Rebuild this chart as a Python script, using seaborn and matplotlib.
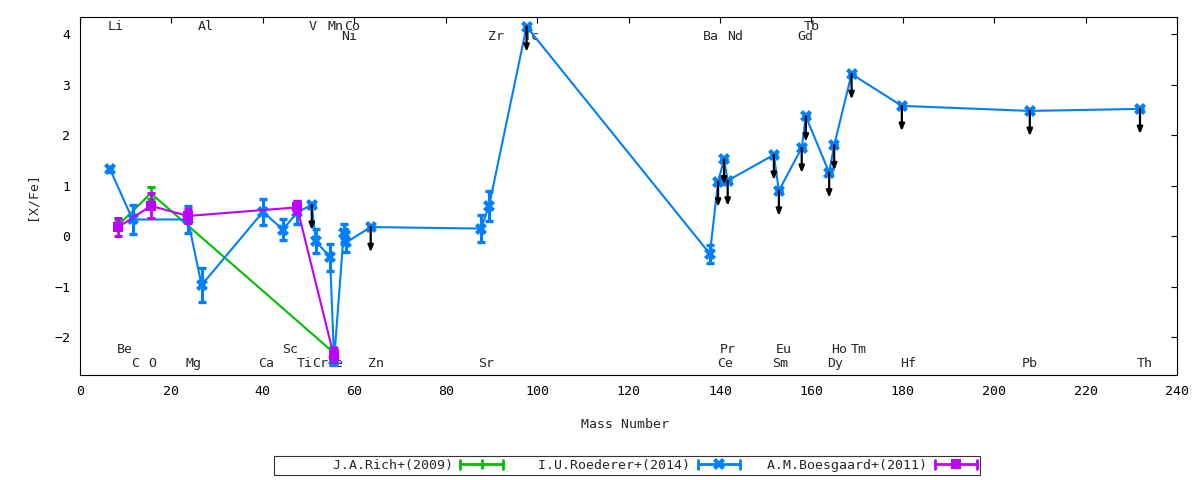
import matplotlib
matplotlib.use('Agg')
import matplotlib.pyplot as plt
from matplotlib.lines import Line2D
from matplotlib.legend_handler import HandlerBase
import seaborn as sns
import pandas as pd

# J.A.Rich+(2009)
rich_mass = [8.4, 15.5, 55.4]
rich_val = [0.22, 0.85, -2.3]
rich_err = [0.1, 0.12, 0.1]

# I.U.Roederer+(2014), upper limits flagged
roed_mass = [6.6, 11.5, 23.6, 26.6, 40.0, 44.4, 47.5, 50.7, 51.6, 54.7, 55.6, 57.7, 58.3,
             63.6, 87.7, 89.5, 97.7, 137.8, 139.6, 140.9, 141.7, 151.8, 152.9, 157.9,
             158.8, 163.9, 165.0, 168.8, 179.8, 207.8, 231.9]
roed_val = [1.32, 0.33, 0.33, -0.97, 0.48, 0.13, 0.47, 0.62, -0.1, -0.42, -2.45, 0.07, -0.12,
            0.18, 0.15, 0.6, 4.15, -0.35, 1.08, 1.52, 1.1, 1.61, 0.9, 1.75,
            2.37, 1.26, 1.8, 3.21, 2.58, 2.48, 2.52]
roed_err = [0.04, 0.28, 0.26, 0.33, 0.26, 0.2, 0.22, 0.0, 0.24, 0.27, 0.1, 0.18, 0.2,
            0.0, 0.27, 0.3, 0.0, 0.18, 0.0, 0.0, 0.0, 0.0, 0.0, 0.0,
            0.0, 0.0, 0.0, 0.0, 0.0, 0.0, 0.0]
roed_lim = [0, 0, 0, 0, 0, 0, 0, 1, 0, 0, 0, 0, 0,
            1, 0, 0, 1, 0, 1, 1, 1, 1, 1, 1,
            1, 1, 1, 1, 1, 1, 1]

# A.M.Boesgaard+(2011)
boes_mass = [8.4, 15.5, 23.6, 47.5, 55.5]
boes_val = [0.18, 0.6, 0.4, 0.57, -2.36]
boes_err = [0.18, 0.25, 0.13, 0.12, 0.14]

# element names written along the top and bottom of the frame
top_hi = [('Li', 7.9), ('Al', 27.6), ('V', 51.0), ('Mn', 56.0), ('Co', 59.5), ('Tb', 160.1)]
top_lo = [('Ni', 58.8), ('Zr', 91.0), ('Tc', 98.9), ('Ba', 138.0), ('Nd', 143.3), ('Gd', 158.8)]
bot_hi = [('Be', 9.8), ('Sc', 45.9), ('Pr', 141.8), ('Eu', 154.0), ('Ho', 166.0), ('Tm', 170.4)]
bot_lo = [('C', 12.0), ('O', 15.75), ('Mg', 24.9), ('Ca', 40.7), ('Ti', 49.2), ('Cr', 52.5),
          ('Fe', 56.0), ('Zn', 64.8), ('Sr', 88.8), ('Ce', 141.1), ('Sm', 153.1),
          ('Dy', 165.2), ('Hf', 181.1), ('Pb', 207.8), ('Th', 233.0)]

x_ticks = list(range(0, 241, 20))
y_ticks = [-2, -1, 0, 1, 2, 3, 4]

GREEN = '#00c000'
BLUE = '#0080ff'
PURPLE = '#c000ff'

sns.set_theme(style='white')
plt.rcParams['font.family'] = ['DejaVu Sans Mono']
plt.rcParams['font.size'] = 9.5


class GnuplotErrHandler(HandlerBase):
    # horizontal sample with caps at both ends, point in the middle
    def create_artists(self, legend, orig_handle, xdescent, ydescent, width, height, fontsize, trans):
        y = height / 2 - ydescent
        x0, x1 = -xdescent, width - xdescent
        c = orig_handle.get_color()
        lw = orig_handle.get_linewidth()
        cap = 3.2
        arts = [Line2D([x0, x1], [y, y], color=c, lw=lw),
                Line2D([x0, x0], [y - cap, y + cap], color=c, lw=lw),
                Line2D([x1, x1], [y - cap, y + cap], color=c, lw=lw),
                Line2D([(x0 + x1) / 2], [y], ls='none', marker=orig_handle.get_marker(),
                       markersize=orig_handle.get_markersize(), color=c,
                       markeredgewidth=orig_handle.get_markeredgewidth())]
        for a in arts:
            a.set_transform(trans)
        return arts


fig = plt.figure(figsize=(12, 4.8), dpi=100)
ax = fig.add_axes([80 / 1200, 105 / 480, 1097 / 1200, 358 / 480])

rich = pd.DataFrame({'mass': rich_mass, 'val': rich_val, 'err': rich_err})
roed = pd.DataFrame({'mass': roed_mass, 'val': roed_val, 'err': roed_err, 'lim': roed_lim})
boes = pd.DataFrame({'mass': boes_mass, 'val': boes_val, 'err': boes_err})

# Rich
sns.lineplot(data=rich, x='mass', y='val', color=GREEN, lw=1.5, marker='+', markersize=7,
             markeredgewidth=2, estimator=None, sort=True, ax=ax, zorder=3)
ax.errorbar(rich['mass'], rich['val'], yerr=rich['err'], fmt='none', ecolor=GREEN,
            elinewidth=2, capsize=3, capthick=2.2, zorder=3)

# Roederer
sns.lineplot(data=roed, x='mass', y='val', color=BLUE, lw=1.5, marker='X', markersize=8.5,
             markeredgewidth=0, estimator=None, sort=True, ax=ax, zorder=4)
ax.errorbar(roed['mass'], roed['val'], yerr=roed['err'], fmt='none', ecolor=BLUE,
            elinewidth=2.2, capsize=3.2, capthick=2.4, zorder=4)
for _, r in roed[roed['lim'] == 1].iterrows():
    ax.annotate('', xy=(r['mass'], r['val'] - 0.5), xytext=(r['mass'], r['val']),
                arrowprops=dict(arrowstyle='-|>,head_length=0.5,head_width=0.2', color='black',
                                lw=1.6, mutation_scale=8, shrinkA=0, shrinkB=0),
                zorder=5)

# Boesgaard
sns.lineplot(data=boes, x='mass', y='val', color=PURPLE, lw=1.5, marker='s', markersize=7.5,
             markeredgewidth=0, estimator=None, sort=True, ax=ax, zorder=6)
ax.errorbar(boes['mass'], boes['val'], yerr=boes['err'], fmt='none', ecolor=PURPLE,
            elinewidth=2, capsize=3, capthick=2.2, zorder=6)

# element labels
for row, yy in [(top_hi, 4.15), (top_lo, 3.95), (bot_hi, -2.24), (bot_lo, -2.52)]:
    for name, xx in row:
        ax.text(xx, yy, name, ha='center', va='center', fontsize=9.5, zorder=1)

ax.set_xlim(0, 240)
ax.set_ylim(-2.75, 4.34)
ax.set_xticks(x_ticks)
ax.set_yticks(y_ticks)
ax.set_xlabel('')
ax.set_ylabel('')
ax.tick_params(direction='in', length=4.5, width=0.8, top=True, right=True,
               labelsize=9.5, colors='black', pad=7)
for sp in ax.spines.values():
    sp.set_color('black')
    sp.set_linewidth(0.8)

fig.text(625 / 1200, 1 - 425 / 480, 'Mass Number', ha='center', va='center', fontsize=9.5)
fig.text(32 / 1200, 1 - 196 / 480, '[X/Fe]', ha='center', va='center', rotation=90, fontsize=9.5)

handles = [Line2D([], [], color=GREEN, lw=2, marker='+', markersize=7, markeredgewidth=2),
           Line2D([], [], color=BLUE, lw=2, marker='X', markersize=8, markeredgewidth=0),
           Line2D([], [], color=PURPLE, lw=2, marker='s', markersize=7, markeredgewidth=0)]
labels = ['J.A.Rich+(2009)', 'I.U.Roederer+(2014)', 'A.M.Boesgaard+(2011)']
labels = [s.rjust(22) for s in labels]
leg = fig.legend(handles, labels, loc='center', bbox_to_anchor=(627 / 1200, 1 - 465.5 / 480),
                 ncol=3, markerfirst=False, frameon=True, fancybox=False,
                 handlelength=3.2, handletextpad=0.6, columnspacing=0.85, borderpad=0.2,
                 fontsize=9.5, handler_map={Line2D: GnuplotErrHandler()})
leg.get_frame().set_edgecolor('black')
leg.get_frame().set_linewidth(0.8)

fig.savefig('out.png', dpi=100)
